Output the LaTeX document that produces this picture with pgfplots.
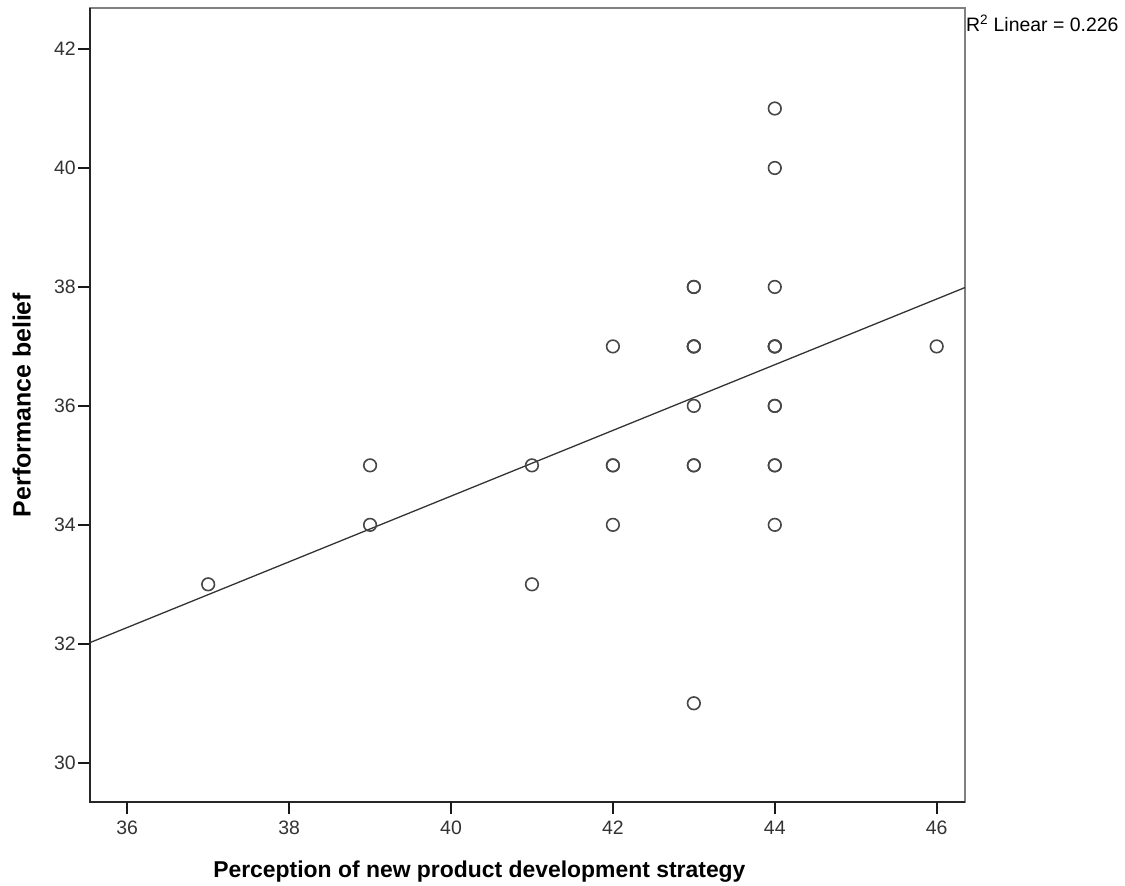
\documentclass[border=0pt]{standalone}
\usepackage{pgfplots}
\pgfplotsset{compat=1.18}
\usepackage{fontspec}
\setmainfont{Liberation Sans}
\begin{document}
\begin{tikzpicture}
\begin{axis}[
  at={(0,0)}, anchor=south west,
  scale only axis, width=875bp, height=794bp,
  xmin=35.54, xmax=46.35, ymin=29.34, ymax=42.69,
  xtick={36,38,40,42,44,46}, ytick={30,32,34,36,38,40,42},
  tick align=outside, major tick length=12bp,
  xtick pos=left, ytick pos=left,
  major tick style={black!90, line width=1.7bp},
  axis line style={draw=black!50, line width=1.5bp},
  ticklabel style={font=\fontsize{19.5}{22}\selectfont, text=black!80},
  xticklabel style={inner sep=0bp, yshift=-7bp},
  yticklabel style={inner sep=2bp},
  /pgf/number format/assume math mode=true,
  xlabel={Perception of new product development strategy},
  ylabel={Performance belief},
  xlabel style={font=\fontsize{23}{27}\selectfont\bfseries, at={(axis description cs:0.445,-0.0945)}, anchor=base},
  ylabel style={font=\fontsize{25}{29}\selectfont\bfseries, at={(axis description cs:-0.078,0.5)}, anchor=center},
  clip=false,
]
\draw[black!85, line width=1.5bp] (rel axis cs:0,1) -- (rel axis cs:0,0) -- (rel axis cs:1,0);
\pgfplotsinvokeforeach{36,38,40,42,44,46}{\draw[black!90, line width=1.7bp] (axis cs:#1,29.34) -- ([yshift=-12bp]axis cs:#1,29.34);}
\addplot[black!80, line width=1.3bp] coordinates {(35.54,32.02) (46.35,37.99)};
\addplot[only marks, mark=o, mark size=6.3bp, mark options={line width=1.6bp, draw=black!72}] coordinates {
(37,33)
(39,35) (39,34)
(41,35) (41,33)
(42,37) (42,35) (42,35) (42,34)
(43,38) (43,38) (43,37) (43,37) (43,37) (43,36) (43,35) (43,35) (43,31)
(44,41) (44,40) (44,38) (44,37) (44,37) (44,37) (44,36) (44,36) (44,35) (44,35) (44,34)
(46,37)
};
\node[anchor=base west, inner sep=1bp, font=\fontsize{19.5}{22}\selectfont] at (rel axis cs:1,1) [yshift=-24bp] {R\textsuperscript{2} Linear = 0.226};
\end{axis}
\pgfresetboundingbox
\path (-90bp,-84bp) rectangle (1035bp,802bp);
\end{tikzpicture}
\end{document}
